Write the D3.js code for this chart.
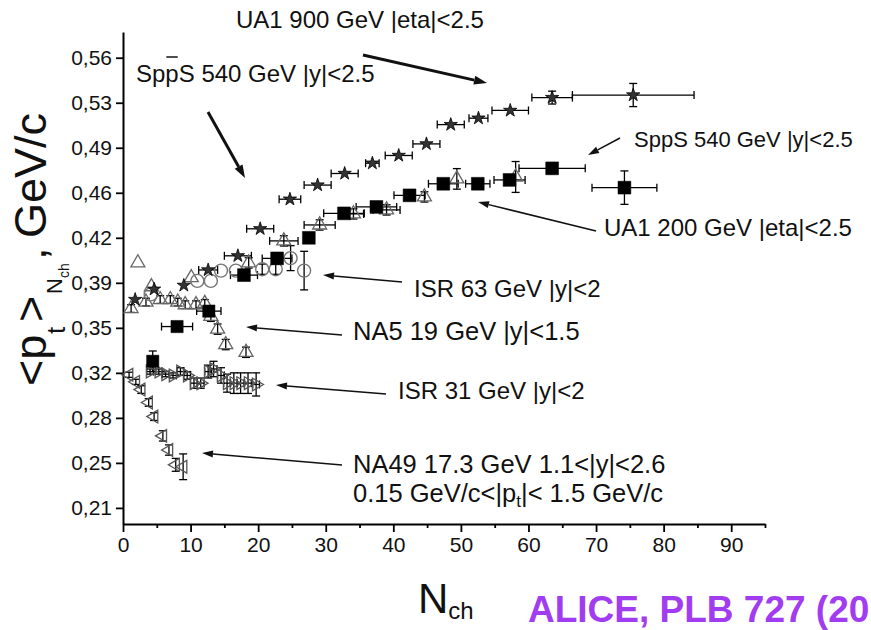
<!DOCTYPE html>
<html>
<head>
<meta charset="utf-8">
<script src="https://cdn.jsdelivr.net/npm/d3@7"></script>
<style>
  html, body { margin: 0; padding: 0; background: #fff; }
  svg { display: block; }
  text { font-family: "Liberation Sans", Arial, Helvetica, sans-serif; fill: #111; }
</style>
</head>
<body>
<svg id="chart" width="871" height="630"></svg>
<script>
// ---------- axis ticks ----------
const xTicks = [0, 10, 20, 30, 40, 50, 60, 70, 80, 90];
const xMinorTicks = [5, 15, 25, 35, 45, 55, 65, 75, 85, 95];
const yTicks = [0.21, 0.245, 0.28, 0.315, 0.35, 0.385, 0.42, 0.455, 0.49, 0.525, 0.56];
const yTickLabels = ["0,21", "0,25", "0,28", "0,32", "0,35", "0,39", "0,42", "0,46", "0,49", "0,53", "0,56"];

// ---------- UA1 900 GeV |eta|<2.5 (stars) ----------
const ua1900N     = [1.8, 4.6, 9.0, 12.6, 17.0, 20.3, 24.7, 28.8, 32.8, 36.9, 40.8, 44.9, 48.5, 52.6, 57.3, 63.5, 75.5];
const ua1900Pt    = [0.372, 0.380, 0.383, 0.395, 0.406, 0.427, 0.450, 0.461, 0.470, 0.478, 0.484, 0.493, 0.508, 0.513, 0.519, 0.529, 0.531];
const ua1900NErr  = [0, 0, 0, 1.4, 2, 2, 1.6, 2, 2, 1, 2, 2, 2, 1.4, 2.7, 3, 9];
const ua1900PtErr = [0, 0, 0, 0, 0, 0, 0, 0, 0, 0, 0, 0, 0, 0, 0, 0.005, 0.009];

// ---------- SppS 540 GeV |y|<2.5 (filled squares) ----------
const spps540N     = [17.9, 22.8, 27.5, 32.7, 37.5, 42.4, 47.4, 52.5, 57.2, 63.5, 74.2];
const spps540Pt    = [0.391, 0.404, 0.420, 0.439, 0.444, 0.453, 0.462, 0.462, 0.465, 0.474, 0.459];
const spps540NErr  = [2, 2.2, 0, 3, 3, 2.3, 2.2, 1.8, 2.3, 4.9, 4.8];
const spps540PtErr = [0, 0, 0, 0, 0, 0, 0, 0, 0, 0.004, 0.013];

// ---------- low multiplicity filled squares ----------
const lowSqN     = [4.4, 8.0, 12.7];
const lowSqPt    = [0.324, 0.351, 0.363];
const lowSqNErr  = [0, 2.3, 1.8];
const lowSqPtErr = [0.008, 0, 0];

// ---------- UA1 200 GeV |eta|<2.5 (open triangles) ----------
const ua1200N     = [2.2, 4.2, 10.1, 18.6, 23.8, 29.1, 34.1, 39.0, 44.6, 49.4, 58.1];
const ua1200Pt    = [0.4005, 0.382, 0.389, 0.4005, 0.4176, 0.430, 0.4386, 0.4417, 0.4518, 0.4658, 0.4673];
const ua1200NErr  = [0, 0, 0, 0, 2.1, 2.3, 1.5, 2, 0, 0, 0];
const ua1200PtErr = [0, 0, 0, 0.004, 0.004, 0.004, 0.004, 0.004, 0.004, 0.008, 0.012];

// ---------- NA5 19 GeV |y|<1.5 (open triangles) ----------
const na5N     = [1.2, 3.4, 5.5, 7.0, 8.1, 9.2, 10.8, 12.1, 13.0, 14.0, 15.2, 18.2];
const na5Pt    = [0.365, 0.370, 0.372, 0.372, 0.370, 0.368, 0.368, 0.369, 0.359, 0.349, 0.337, 0.331];
const na5PtErr = [0.003, 0.003, 0.003, 0.003, 0.003, 0.003, 0.003, 0.003, 0.004, 0.004, 0.004, 0.004];

// ---------- ISR 63 GeV |y|<2 (open circles) ----------
const isr63N     = [4.1, 11.0, 13.0, 14.5, 16.7, 20.6, 22.6, 24.8, 26.8];
const isr63Pt    = [0.376, 0.3865, 0.3865, 0.3945, 0.3945, 0.3956, 0.3956, 0.4042, 0.3945];
const isr63PtErr = [0, 0, 0, 0, 0, 0.004, 0.004, 0.0097, 0.015];

// ---------- ISR 31 GeV |y|<2 (right-pointing triangles) ----------
const isr31N     = [4.0, 5.3, 6.3, 7.4, 8.5, 9.5, 10.5, 11.5, 12.6, 13.4, 14.5, 15.4, 16.4, 17.4, 18.5, 19.7];
const isr31Pt    = [0.316, 0.316, 0.314, 0.313, 0.316, 0.313, 0.307, 0.307, 0.316, 0.318, 0.313, 0.307, 0.307, 0.307, 0.307, 0.306];
const isr31NErr  = [0.5, 0.5, 0.5, 0.5, 0.5, 0.5, 0.5, 0.5, 0.5, 0.5, 0.5, 0.5, 0.5, 0.5, 0.5, 0.5];
const isr31PtErr = [0.002, 0.002, 0.002, 0.002, 0.003, 0.003, 0.004, 0.004, 0.005, 0.006, 0.006, 0.007, 0.008, 0.008, 0.008, 0.009];

// ---------- NA49 17.3 GeV (left-pointing triangles) ----------
const na49N     = [0.9, 1.9, 2.7, 3.8, 4.6, 5.9, 6.8, 7.8, 8.9];
const na49Pt    = [0.3135, 0.308, 0.302, 0.292, 0.281, 0.266, 0.255, 0.2435, 0.242];
const na49PtErr = [0.002, 0.002, 0.003, 0.003, 0.003, 0.004, 0.004, 0.005, 0.010];

// ---------- layout ----------
const svg = d3.select("#chart");
const x = d3.scaleLinear().domain([0, 95]).range([123, 765]);
const y = d3.scaleLinear().domain([0.1975, 0.58]).range([524, 32]);

// axes
const gx = svg.append("g").attr("transform", `translate(0,${y.range()[0]})`)
  .call(d3.axisBottom(x).tickValues(xTicks).tickSize(8).tickSizeOuter(0).tickPadding(5));
const gxm = svg.append("g").attr("transform", `translate(0,${y.range()[0]})`)
  .call(d3.axisBottom(x).tickValues(xMinorTicks).tickSize(4).tickFormat(""));
gxm.select(".domain").remove();
const gy = svg.append("g").attr("transform", `translate(${x.range()[0]},0)`)
  .call(d3.axisLeft(y).tickValues(yTicks).tickFormat((d, i) => yTickLabels[i]).tickSize(7).tickSizeOuter(0).tickPadding(4));

[gx, gxm, gy].forEach(g => {
  g.selectAll(".domain").attr("stroke", "#000").attr("stroke-width", 2);
  g.selectAll(".tick line").attr("stroke", "#000").attr("stroke-width", 1.8);
  g.selectAll(".tick text").attr("font-size", 21).attr("fill", "#222")
    .attr("font-family", "'Liberation Sans', Arial, sans-serif");
});

// ---------- drawing helpers ----------
const plot = svg.append("g");
const CAP = 4;

function errorBars(N, P, NE, PE) {
  const g = plot.append("g").attr("stroke", "#000").attr("stroke-width", 1.3).attr("fill", "none");
  N.forEach((n, i) => {
    const cx = x(n), cy = y(P[i]);
    const ne = NE ? NE[i] : 0, pe = PE ? PE[i] : 0;
    if (ne > 0) {
      const x0 = x(n - ne), x1 = x(n + ne);
      g.append("line").attr("x1", x0).attr("x2", x1).attr("y1", cy).attr("y2", cy);
      g.append("line").attr("x1", x0).attr("x2", x0).attr("y1", cy - CAP).attr("y2", cy + CAP);
      g.append("line").attr("x1", x1).attr("x2", x1).attr("y1", cy - CAP).attr("y2", cy + CAP);
    }
    if (pe > 0) {
      const y0 = y(P[i] - pe), y1 = y(P[i] + pe);
      g.append("line").attr("x1", cx).attr("x2", cx).attr("y1", y0).attr("y2", y1);
      g.append("line").attr("x1", cx - CAP).attr("x2", cx + CAP).attr("y1", y0).attr("y2", y0);
      g.append("line").attr("x1", cx - CAP).attr("x2", cx + CAP).attr("y1", y1).attr("y2", y1);
    }
  });
}

function markers(N, P, type, size, rot, fill, stroke, sw) {
  const sym = d3.symbol().type(type).size(size);
  plot.append("g").selectAll("path").data(N).join("path")
    .attr("d", sym)
    .attr("transform", (n, i) => `translate(${x(n)},${y(P[i])}) rotate(${rot})`)
    .attr("fill", fill).attr("stroke", stroke).attr("stroke-width", sw);
}

// error bars first, then symbols
errorBars(na49N, na49Pt, null, na49PtErr);
errorBars(isr31N, isr31Pt, isr31NErr, isr31PtErr);
errorBars(na5N, na5Pt, null, na5PtErr);
errorBars(isr63N, isr63Pt, null, isr63PtErr);
errorBars(ua1200N, ua1200Pt, ua1200NErr, ua1200PtErr);
errorBars(lowSqN, lowSqPt, lowSqNErr, lowSqPtErr);
errorBars(spps540N, spps540Pt, spps540NErr, spps540PtErr);
errorBars(ua1900N, ua1900Pt, ua1900NErr, ua1900PtErr);

markers(na49N, na49Pt, d3.symbolTriangle, 70, -90, "none", "#555", 1.3);
markers(isr31N, isr31Pt, d3.symbolTriangle, 70, 90, "none", "#555", 1.3);
markers(na5N, na5Pt, d3.symbolTriangle, 85, 0, "none", "#666", 1.3);
markers(ua1200N, ua1200Pt, d3.symbolTriangle, 85, 0, "none", "#666", 1.3);
isr63N.forEach((n, i) => {
  plot.append("circle").attr("cx", x(n)).attr("cy", y(isr63Pt[i])).attr("r", 6.5)
    .attr("fill", "none").attr("stroke", "#777").attr("stroke-width", 1.4);
});
markers(lowSqN, lowSqPt, d3.symbolSquare, 150, 0, "#000", "#000", 0.5);
markers(spps540N, spps540Pt, d3.symbolSquare, 165, 0, "#000", "#000", 0.5);
markers(ua1900N, ua1900Pt, d3.symbolStar, 55, 0, "#333", "#000", 0.8);

// ---------- axis titles ----------
const yTitle = svg.append("text").attr("transform", "translate(46,386) rotate(-90)")
  .attr("font-size", 45).attr("fill", "#111");
yTitle.append("tspan").attr("x", 0).attr("y", 0).text("<p");
yTitle.append("tspan").attr("x", 52).attr("y", 19).attr("font-size", 26).text("t");
yTitle.append("tspan").attr("x", 64).attr("y", 0).text(">");
yTitle.append("tspan").attr("x", 92).attr("y", 16).attr("font-size", 22).text("N");
yTitle.append("tspan").attr("x", 108).attr("y", 23).attr("font-size", 14).text("ch");
yTitle.append("tspan").attr("x", 126).attr("y", 0).text(",");
yTitle.append("tspan").attr("x", 148).attr("y", 0).text("GeV/c");

const xTitle = svg.append("text").attr("transform", "translate(418,613)")
  .attr("font-size", 42).attr("fill", "#111");
xTitle.append("tspan").text("N");
xTitle.append("tspan").attr("font-size", 24).attr("dy", 6).text("ch");

svg.append("text").attr("transform", "translate(528,622)")
  .attr("font-size", 37).attr("font-weight", "bold").style("fill", "#a23cf0")
  .text("ALICE, PLB 727 (20");

// ---------- annotations ----------
function label(px, py, parts, size) {
  const t = svg.append("text").attr("transform", `translate(${px},${py})`)
    .attr("font-size", size || 24);
  parts.forEach(p => {
    const s = t.append("tspan").text(p.t);
    if (p.s) s.attr("font-size", p.s);
    if (p.dy) s.attr("dy", p.dy);
  });
  return t;
}

function arrow(x1, y1, x2, y2, w, len, hw) {
  const a = Math.atan2(y2 - y1, x2 - x1);
  const bx = x2 - len * Math.cos(a), by = y2 - len * Math.sin(a);
  svg.append("line").attr("x1", x1).attr("y1", y1).attr("x2", bx).attr("y2", by)
    .attr("stroke", "#111").attr("stroke-width", w);
  const px = -Math.sin(a) * hw / 2, py = Math.cos(a) * hw / 2;
  svg.append("path")
    .attr("d", `M${x2},${y2}L${bx + px},${by + py}L${bx - px},${by - py}Z`)
    .attr("fill", "#111");
}

label(236, 28, [{ t: "UA1 900 GeV |eta|<2.5" }]);
arrow(363, 55, 487, 83, 3, 13, 9);

const sppsLeft = label(136, 82, [{ t: "SppS 540 GeV |y|<2.5" }]);
{
  // bar over the antiproton "p"
  const node = sppsLeft.node();
  const start = node.getStartPositionOfChar(2).x;
  const len = node.getSubStringLength(2, 1);
  svg.append("line")
    .attr("x1", 136 + start + 1).attr("x2", 136 + start + len - 1)
    .attr("y1", 57).attr("y2", 57).attr("stroke", "#111").attr("stroke-width", 1.5);
}
arrow(208, 112, 245, 178, 3, 13, 9);

label(634, 147, [{ t: "SppS 540 GeV |y|<2.5" }], 22);
arrow(620, 138, 588, 155, 1.5, 11, 7);

label(604, 236, [{ t: "UA1 200 GeV |eta|<2.5" }]);
arrow(596, 231, 478, 202, 1.5, 11, 7);

label(414, 297, [{ t: "ISR 63 GeV |y|<2" }]);
arrow(402, 282, 323, 275, 1.5, 11, 7);

label(353, 340, [{ t: "NA5 19 GeV |y|<1.5" }], 25.5);
arrow(342, 335, 246, 327, 1.5, 11, 7);

label(398, 399, [{ t: "ISR 31 GeV |y|<2" }]);
arrow(386, 394, 276, 385, 1.5, 11, 7);

label(353, 473, [{ t: "NA49 17.3 GeV 1.1<|y|<2.6" }], 25.5);
label(353, 502, [{ t: "0.15 GeV/c<|p" }, { t: "t", s: 17, dy: 5 }, { t: "|< 1.5 GeV/c", dy: -5 }], 25.5);
arrow(342, 465, 202, 453, 1.5, 11, 7);
</script>
</body>
</html>
